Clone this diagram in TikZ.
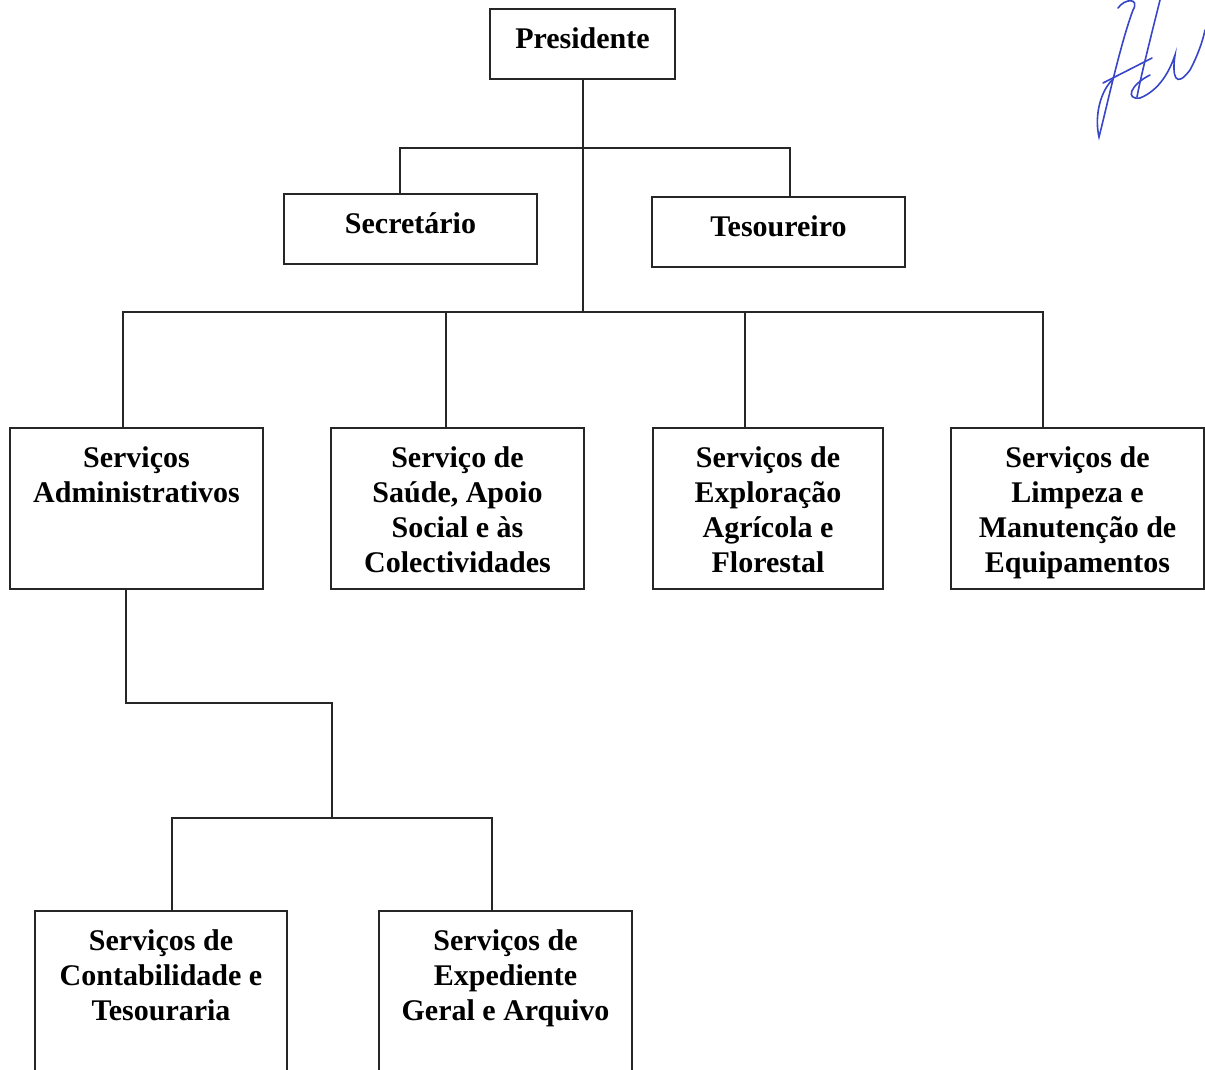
\documentclass[tikz,border=0pt]{standalone}
\usepackage{fontspec}
\setmainfont{Liberation Serif}
\newcommand{\boxtext}[3]{\parbox[t][#2pt][t]{#1pt}{\centering\strut #3}}
\tikzset{
    unit/.style={draw=black!85, line width=2pt, anchor=north, inner xsep=0pt, inner ysep=14.5pt,
        font=\bfseries\fontsize{30}{35}\selectfont},
    link/.style={draw=black!85, line width=2pt},
    sign/.style={draw={rgb,255:red,55;green,70;blue,200}, line width=1.6pt, line cap=round}
}
\begin{document}
\begin{tikzpicture}[x=1pt, y=-1pt]
                        \fill[white] (0,0) rectangle (1205,1069);
                        \useasboundingbox (0,0) rectangle (1205,1069);

                        \node[unit] (pres) at (582.5,8) {\boxtext{185}{41}{Presidente}};
                        \node[unit] (sec) at (410.5,193) {\boxtext{253}{41}{Secret\'ario}};
                        \node[unit] (tes) at (778.5,196) {\boxtext{253}{41}{Tesoureiro}};

                        \node[unit] (adm) at (136.5,427) {\boxtext{253}{132}{Serviços\\Administrativos}};
                        \node[unit] (sau) at (457.5,427) {\boxtext{253}{132}{Serviço de\\Saúde, Apoio\\Social e às\\Colectividades}};
                        \node[unit] (exp) at (768,427) {\boxtext{230}{132}{Serviços de\\Exploração\\Agrícola e\\Florestal}};
                        \node[unit] (lim) at (1077.5,427) {\boxtext{253}{132}{Serviços de\\Limpeza e\\Manutenção de\\Equipamentos}};

                        \node[unit] (con) at (161,910) {\boxtext{252}{161}{Serviços de\\Contabilidade e\\Tesouraria}};
                        \node[unit] (exq) at (505.5,910) {\boxtext{253}{161}{Serviços de\\Expediente\\Geral e Arquivo}};

                        \coordinate (top) at (582.5,148);
                        \coordinate (bus) at (582.5,312);
                        \coordinate (bend) at (332,703);
                        \coordinate (sub) at (332,818);

                        \draw[link] (pres.south) -- (top) -- (bus);
                        \draw[link] ([xshift=-10.5pt]sec.north) |- (top);
                        \draw[link] ([xshift=11.5pt]tes.north) |- (top);

                        \foreach \n/\dx in {adm/-13.5, sau/-11.5, exp/-23, lim/-34.5}
                            \draw[link] ([xshift=\dx pt]\n.north) |- (bus);

                        \draw[link] ([xshift=-10.5pt]adm.south) |- (bend) -- (sub);
                        \draw[link] ([xshift=11pt]con.north) |- (sub);
                        \draw[link] ([xshift=-13.5pt]exq.north) |- (sub);

                        \draw[sign] (1118,8) .. controls (1125,-2) and (1140,-2) .. (1133,10) .. controls (1120,45) and (1106,110) .. (1099,137) .. controls (1095,120) and (1098,95) .. (1112,80);
                        \draw[sign] (1103,83) -- (1152,58);
                        \draw[sign] (1160,0) .. controls (1150,40) and (1140,80) .. (1137,97);
                        \draw[sign] (1150,75) .. controls (1130,85) and (1125,100) .. (1140,98) .. controls (1160,90) and (1170,70) .. (1175,55) .. controls (1172,75) and (1175,90) .. (1190,70) .. controls (1198,55) and (1203,40) .. (1205,30);
\end{tikzpicture}
\end{document}
